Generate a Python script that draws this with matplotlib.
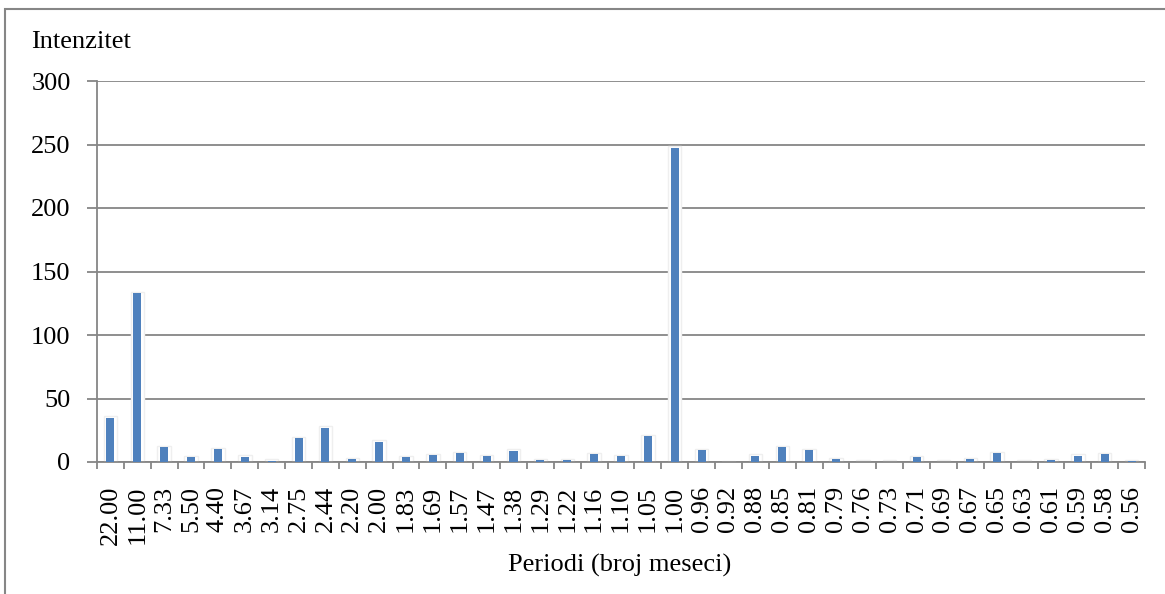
import numpy as np
import matplotlib
matplotlib.use("Agg")
import matplotlib.pyplot as plt
from matplotlib.patches import Rectangle

# periodi (broj meseci) i intenzitet
periodi = ["22.00", "11.00", "7.33", "5.50", "4.40", "3.67", "3.14", "2.75", "2.44", "2.20",
           "2.00", "1.83", "1.69", "1.57", "1.47", "1.38", "1.29", "1.22", "1.16", "1.10",
           "1.05", "1.00", "0.96", "0.92", "0.88", "0.85", "0.81", "0.79", "0.76", "0.73",
           "0.71", "0.69", "0.67", "0.65", "0.63", "0.61", "0.59", "0.58", "0.56"]
intenzitet = [35, 133, 11.5, 4, 10, 4.2, 1, 19, 27, 2.4,
              16, 4, 5.5, 6.8, 4.7, 9, 1.6, 1.3, 6.3, 4.7,
              20.5, 247.5, 9.5, 0, 5, 11.5, 9.5, 2.4, 0.3, 0.2,
              4, 0.2, 2.4, 7, 0.2, 1.6, 5, 6.3, 0.5]
y_ticks = [0, 50, 100, 150, 200, 250, 300]

plt.rcParams['font.family'] = ['Liberation Serif', 'DejaVu Serif']
siva = '#868686'
fs = 19

fig = plt.figure(figsize=(11.65, 5.94), dpi=100)
# okvir grafikona (desna i donja ivica su odsecene)
fig.patches.append(Rectangle((5/1165, -0.1), 1.2, 1 - 9/594 + 0.1, transform=fig.transFigure,
                             fill=False, edgecolor=siva, linewidth=1.5))
ax = fig.add_axes([97/1165, 1 - 462/594, (1145 - 97)/1165, (462 - 81)/594])

x = np.arange(len(periodi))
# beli "sjaj" oko stubica
ax.bar(x, np.array(intenzitet) + 1.5, width=0.5, bottom=-0.5, color='white',
       edgecolor='#efefef', linewidth=1.0, zorder=2)
ax.bar(x, intenzitet, width=0.3, color='#4F81BD', zorder=3)

ax.set_xlim(-0.5, len(periodi) - 0.5)
ax.set_ylim(0, 300)
ax.set_yticks(y_ticks)
ax.set_yticklabels([str(v) for v in y_ticks], fontsize=fs)
ax.yaxis.grid(True, color=siva, linewidth=1.3, zorder=1)
ax.set_axisbelow(True)

ax.set_xticks(x)
ax.set_xticklabels(periodi, rotation=90, fontsize=fs)
ax.set_xticks(np.arange(len(periodi) + 1) - 0.5, minor=True)
ax.tick_params(axis='x', which='major', length=0, pad=17)
ax.tick_params(axis='x', which='minor', length=5, width=1.3, color=siva, direction='out')
ax.tick_params(axis='y', length=7, width=1.3, color=siva, pad=12)

for s in ['top', 'right']:
    ax.spines[s].set_visible(False)
for s in ['left', 'bottom']:
    ax.spines[s].set_color(siva)
    ax.spines[s].set_linewidth(1.3)

fig.text(31/1165, 1 - 48/594, "Intenzitet", fontsize=fs, va='baseline')
fig.text(620/1165, 1 - 572/594, "Periodi (broj meseci)", fontsize=fs, ha='center', va='baseline')

plt.savefig("out.png", dpi=100)
